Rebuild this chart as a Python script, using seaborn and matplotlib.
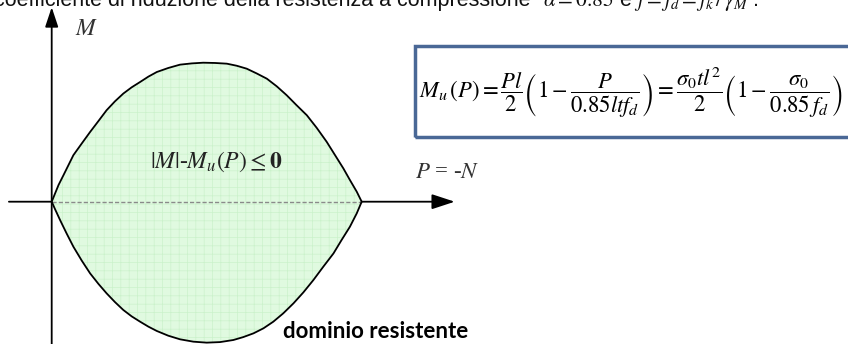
import matplotlib
matplotlib.use("Agg")
import pandas as pd
import matplotlib.pyplot as plt
from matplotlib.patches import Rectangle
import seaborn as sns

# Dominio resistente: curva superiore e inferiore (P normalizzato, M normalizzato)
p_sup = [0.0, 0.011, 0.022, 0.038, 0.054, 0.070, 0.097, 0.124, 0.151, 0.177,
         0.204, 0.231, 0.258, 0.285, 0.312, 0.339, 0.376, 0.414, 0.452, 0.489,
         0.527, 0.565, 0.597, 0.629, 0.661, 0.694, 0.726, 0.758, 0.790, 0.823,
         0.855, 0.887, 0.914, 0.941, 0.962, 0.984, 0.992, 1.0]
m_sup = [0.0, 0.060, 0.120, 0.191, 0.263, 0.335, 0.419, 0.502, 0.581, 0.658,
         0.722, 0.778, 0.823, 0.861, 0.900, 0.933, 0.962, 0.986, 0.995, 1.0,
         0.998, 0.993, 0.978, 0.957, 0.923, 0.885, 0.830, 0.766, 0.694, 0.622,
         0.531, 0.431, 0.335, 0.239, 0.156, 0.072, 0.036, 0.0]
p_inf = [0.0, 0.011, 0.027, 0.048, 0.070, 0.097, 0.124, 0.151, 0.177, 0.204,
         0.231, 0.258, 0.285, 0.312, 0.339, 0.376, 0.414, 0.457, 0.5, 0.543,
         0.586, 0.618, 0.651, 0.683, 0.715, 0.747, 0.780, 0.812, 0.844, 0.876,
         0.909, 0.935, 0.962, 0.984, 1.0]
m_inf = [0.0, -0.055, -0.132, -0.228, -0.324, -0.424, -0.516, -0.592, -0.659, -0.722,
         -0.779, -0.825, -0.863, -0.899, -0.930, -0.964, -0.990, -1.007, -1.014, -1.010,
         -0.995, -0.974, -0.947, -0.911, -0.863, -0.803, -0.731, -0.652, -0.564, -0.468,
         -0.372, -0.276, -0.180, -0.084, 0.0]

testo_sopra = "coefficiente di riduzione della resistenza a compressione"
formula = (r"$M_u\,\left(P\right) = \dfrac{Pl}{2}\left(1-\dfrac{P}{0.85ltf_d}\right)"
           r" = \dfrac{\sigma_0 t l^2}{2}\left(1-\dfrac{\sigma_0}{0.85\,f_d}\right)$")
etichetta_dominio = r"$|M|$-$M_u(P) \leq \mathbf{0}$"

sns.set_theme(style="white")
plt.rcParams['font.family'] = ['Liberation Sans', 'DejaVu Sans']
plt.rcParams['mathtext.fontset'] = 'stix'
plt.rcParams['hatch.linewidth'] = 0.5

W, H = 848, 344
fig = plt.figure(figsize=(W / 100, H / 100), dpi=100)
ax = fig.add_axes([0, 0, 1, 1])

# scala: P=0 -> x 51.7 px, P=1 -> x 361.7 px ; M=0 -> y 201.7 px, 1 unita = 139 px
x0, sx, y0, sy = 51.7, 310.0, 201.7, 139.0

# assi con frecce
ax.annotate("", xy=(1.30, 0), xytext=(-0.138, 0),
            arrowprops=dict(arrowstyle="-|>,head_length=1.4,head_width=0.46",
                            color="black", lw=1.3, mutation_scale=10,
                            shrinkA=0, shrinkB=0), zorder=1)
ax.annotate("", xy=(0, 1.399), xytext=(0, -1.1),
            arrowprops=dict(arrowstyle="-|>,head_length=1.2,head_width=0.40",
                            color="black", lw=1.3, mutation_scale=10,
                            shrinkA=0, shrinkB=0), zorder=1)

# area del dominio
poly_x = p_sup + p_inf[::-1]
poly_y = m_sup + m_inf[::-1]
ax.fill(poly_x, poly_y, facecolor="#e0fae0", edgecolor="#cbf2cb",
        hatch="++", lw=0, zorder=2)
ax.plot([0, 1], [0, 0], color="#8a8a8a", lw=1.0, ls=(0, (3, 1.5)), zorder=3)

df_sup = pd.DataFrame({"P": p_sup, "M": m_sup})
df_inf = pd.DataFrame({"P": p_inf, "M": m_inf})
sns.lineplot(data=df_sup, x="P", y="M", sort=False, color="black", lw=1.3, ax=ax, zorder=4)
sns.lineplot(data=df_inf, x="P", y="M", sort=False, color="black", lw=1.3, ax=ax, zorder=4)
ax.set_xlim(-x0 / sx, (W - x0) / sx)
ax.set_ylim((y0 - H) / sy, y0 / sy)
ax.set_axis_off()


def fx(px):
    return px / W


def fy(py):
    return 1 - py / H


# testo tagliato in alto (come nell'originale)
fig.text(fx(530), fy(6), testo_sopra, ha="right", va="baseline", fontsize=15.5, color="#111")
fig.text(fx(543), fy(6), r"$\alpha = 0.85$ e $f = f_d = f_k\,/\,\gamma_M$ :",
         ha="left", va="baseline", fontsize=15.5, color="#111")

# etichette assi
fig.text(fx(75), fy(29), r"$M$", ha="left", va="center", fontsize=17, color="#333")
fig.text(fx(415), fy(173), r"$P$ = -$N$", ha="left", va="center", fontsize=16.5,
         color="#333", family=["Liberation Serif", "DejaVu Serif"])
fig.text(fx(150), fy(162), etichetta_dominio, ha="left", va="center", fontsize=17,
         color="#222", family=["Liberation Serif", "DejaVu Serif"])

# riquadro con la formula
fig.patches.append(Rectangle((fx(415), fy(137)), fx(470), (137 - 46) / H,
                             transform=fig.transFigure, fill=False,
                             edgecolor="#4a6896", lw=2.5, zorder=5))
fig.text(fx(631), fy(92), formula, ha="center", va="center", fontsize=16.3, color="black")

fig.text(fx(283), fy(331), "dominio resistente", ha="left", va="center",
         fontsize=16, fontweight="bold", color="black", family=["Lato", "DejaVu Sans"])

fig.savefig("out.png", dpi=100)
